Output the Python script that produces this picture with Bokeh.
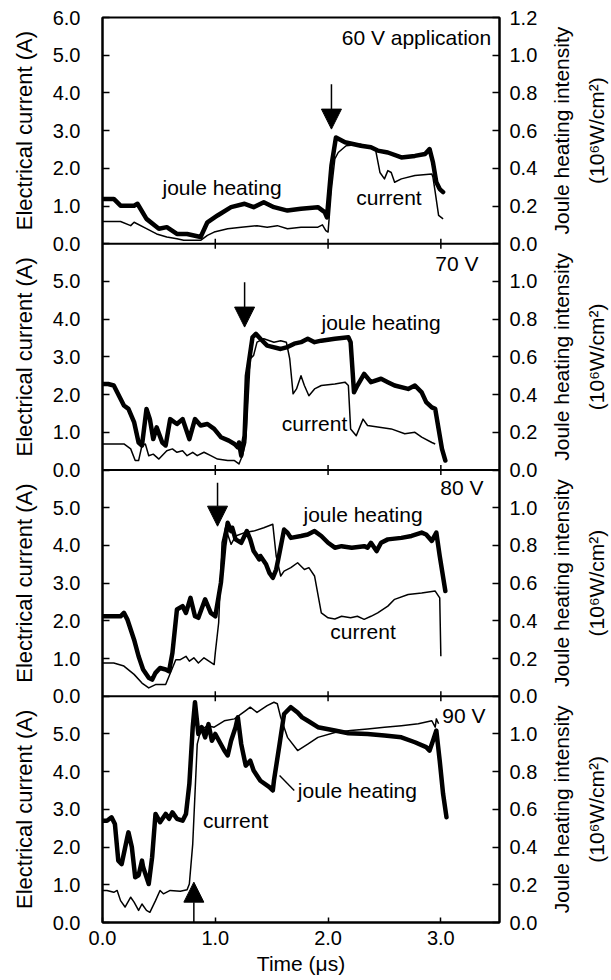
from math import pi
from bokeh.plotting import figure
from bokeh.layouts import row
from bokeh.models import (Range1d, LinearAxis, FixedTicker, Span, Label, Arrow,
                          NormalHead, PrintfTickFormatter, CustomJSTickFormatter)
from bokeh.embed import file_html
from bokeh.resources import INLINE

# ---------------- data (time in µs, current in A, joule heating in 10^6 W/cm^2) ----------------
p1_jh_t = [0.00, 0.10, 0.16, 0.28, 0.31, 0.39, 0.50, 0.57, 0.66, 0.75, 0.87, 0.93, 1.02, 1.14, 1.26,
           1.34, 1.43, 1.52, 1.64, 1.76, 1.91, 1.97, 1.99, 2.03, 2.07, 2.15, 2.29, 2.38, 2.44, 2.53,
           2.65, 2.77, 2.86, 2.90, 2.93, 2.96, 2.99, 3.02]
p1_jh = [0.238, 0.238, 0.202, 0.202, 0.212, 0.132, 0.080, 0.088, 0.052, 0.052, 0.036, 0.114, 0.150,
         0.194, 0.212, 0.194, 0.220, 0.194, 0.176, 0.186, 0.194, 0.168, 0.140, 0.414, 0.564, 0.538,
         0.520, 0.512, 0.494, 0.484, 0.458, 0.466, 0.476, 0.502, 0.432, 0.326, 0.290, 0.274]
p1_cur_t = [0.00, 0.16, 0.25, 0.28, 0.39, 0.48, 0.57, 0.66, 0.72, 0.87, 0.93, 0.99, 1.11, 1.23, 1.37,
            1.46, 1.55, 1.64, 1.76, 1.91, 1.95, 1.98, 2.00, 2.03, 2.06, 2.09, 2.16, 2.29, 2.38, 2.42,
            2.46, 2.50, 2.53, 2.56, 2.59, 2.65, 2.77, 2.92, 2.93, 2.95, 2.98, 3.02]
p1_cur = [0.59, 0.59, 0.48, 0.57, 0.40, 0.26, 0.18, 0.13, 0.09, 0.09, 0.22, 0.31, 0.40, 0.44, 0.48,
          0.44, 0.48, 0.40, 0.44, 0.44, 0.50, 0.35, 0.31, 1.45, 2.25, 2.42, 2.60, 2.64, 2.56, 2.51,
          1.89, 1.72, 1.94, 1.89, 1.63, 1.72, 1.81, 1.85, 1.76, 1.37, 0.75, 0.66]

p2_jh_t = [0.00, 0.05, 0.10, 0.19, 0.23, 0.28, 0.32, 0.35, 0.39, 0.42, 0.45, 0.48, 0.53, 0.56, 0.60,
           0.66, 0.71, 0.74, 0.77, 0.82, 0.87, 0.93, 0.99, 1.05, 1.12, 1.17, 1.20, 1.21, 1.23, 1.26,
           1.28, 1.33, 1.36, 1.40, 1.46, 1.58, 1.64, 1.70, 1.76, 1.82, 1.88, 1.94, 2.06, 2.18, 2.20,
           2.23, 2.26, 2.32, 2.38, 2.47, 2.53, 2.59, 2.71, 2.77, 2.83, 2.87, 2.92, 2.95, 2.98, 3.01,
           3.04]
p2_jh = [0.456, 0.456, 0.448, 0.342, 0.324, 0.254, 0.146, 0.130, 0.324, 0.270, 0.164, 0.226, 0.146,
         0.130, 0.270, 0.244, 0.270, 0.218, 0.164, 0.270, 0.236, 0.244, 0.218, 0.174, 0.156, 0.138,
         0.120, 0.146, 0.076, 0.182, 0.500, 0.704, 0.722, 0.696, 0.660, 0.642, 0.652, 0.670, 0.678,
         0.696, 0.678, 0.686, 0.696, 0.704, 0.678, 0.412, 0.448, 0.510, 0.466, 0.484, 0.466, 0.448,
         0.430, 0.448, 0.412, 0.360, 0.332, 0.324, 0.218, 0.112, 0.050]
p2_cur_t = [0.00, 0.19, 0.25, 0.29, 0.32, 0.35, 0.38, 0.41, 0.45, 0.50, 0.57, 0.62, 0.66, 0.71, 0.75,
            0.80, 0.84, 0.90, 0.96, 1.02, 1.11, 1.17, 1.21, 1.24, 1.27, 1.31, 1.34, 1.37, 1.43, 1.52,
            1.58, 1.63, 1.66, 1.69, 1.72, 1.76, 1.79, 1.83, 1.88, 1.94, 2.06, 2.15, 2.18, 2.20, 2.25,
            2.31, 2.35, 2.47, 2.56, 2.68, 2.77, 2.83, 2.92, 2.95]
p2_cur = [0.69, 0.69, 0.56, 0.25, 0.25, 0.65, 0.69, 0.38, 0.42, 0.29, 0.51, 0.56, 0.47, 0.51, 0.38,
          0.47, 0.38, 0.47, 0.38, 0.29, 0.25, 0.25, 0.16, 0.38, 0.73, 2.95, 3.04, 3.39, 3.48, 3.39,
          3.43, 3.39, 2.95, 2.02, 2.15, 2.50, 2.24, 1.97, 2.15, 2.24, 2.28, 2.33, 2.24, 1.09, 0.91,
          1.35, 1.18, 1.13, 1.09, 0.96, 1.00, 0.87, 0.73, 0.69]

p3_jh_t = [0.00, 0.16, 0.19, 0.22, 0.28, 0.32, 0.36, 0.41, 0.44, 0.47, 0.51, 0.56, 0.59, 0.62, 0.66,
           0.71, 0.74, 0.78, 0.82, 0.85, 0.91, 0.96, 1.00, 1.05, 1.08, 1.11, 1.14, 1.15, 1.18, 1.23,
           1.28, 1.31, 1.34, 1.39, 1.40, 1.45, 1.48, 1.51, 1.54, 1.57, 1.61, 1.64, 1.67, 1.76, 1.82,
           1.88, 1.94, 2.00, 2.06, 2.12, 2.21, 2.32, 2.35, 2.38, 2.43, 2.47, 2.53, 2.65, 2.74, 2.83,
           2.87, 2.92, 2.96, 2.99, 3.04]
p3_jh = [0.424, 0.424, 0.442, 0.408, 0.300, 0.212, 0.142, 0.098, 0.088, 0.124, 0.150, 0.142, 0.132,
         0.230, 0.460, 0.478, 0.442, 0.522, 0.424, 0.416, 0.514, 0.442, 0.424, 0.602, 0.796, 0.920,
         0.876, 0.894, 0.832, 0.814, 0.876, 0.832, 0.770, 0.726, 0.744, 0.700, 0.654, 0.628, 0.672,
         0.762, 0.884, 0.868, 0.840, 0.850, 0.858, 0.876, 0.850, 0.814, 0.788, 0.796, 0.788, 0.796,
         0.788, 0.814, 0.770, 0.814, 0.832, 0.840, 0.850, 0.868, 0.858, 0.824, 0.868, 0.744, 0.558]
p3_cur_t = [0.00, 0.10, 0.19, 0.28, 0.35, 0.41, 0.47, 0.56, 0.59, 0.65, 0.69, 0.74, 0.77, 0.81, 0.85,
            0.90, 0.99, 1.00, 1.03, 1.06, 1.09, 1.14, 1.18, 1.26, 1.34, 1.43, 1.51, 1.54, 1.58, 1.61,
            1.67, 1.73, 1.79, 1.83, 1.88, 1.94, 2.00, 2.06, 2.12, 2.20, 2.26, 2.32, 2.38, 2.44, 2.53,
            2.59, 2.71, 2.83, 2.95, 2.99, 3.00]
p3_cur = [0.88, 0.88, 0.80, 0.58, 0.35, 0.22, 0.31, 0.31, 0.53, 0.97, 0.97, 1.06, 0.93, 1.02, 0.88,
          1.02, 0.84, 1.15, 1.95, 4.07, 4.47, 4.03, 4.25, 4.34, 4.38, 4.47, 4.56, 3.72, 3.19, 3.32,
          3.41, 3.54, 3.36, 3.41, 3.19, 2.21, 2.08, 2.05, 2.12, 2.08, 2.12, 2.04, 2.12, 2.21, 2.39,
          2.57, 2.70, 2.74, 2.79, 2.61, 1.06]

p4_jh_t = [0.00, 0.04, 0.08, 0.11, 0.14, 0.17, 0.22, 0.23, 0.26, 0.29, 0.32, 0.35, 0.36, 0.41, 0.44,
           0.47, 0.51, 0.56, 0.59, 0.62, 0.66, 0.71, 0.74, 0.77, 0.80, 0.82, 0.85, 0.88, 0.91, 0.94,
           0.97, 1.00, 1.08, 1.11, 1.14, 1.18, 1.20, 1.23, 1.27, 1.31, 1.34, 1.40, 1.48, 1.51, 1.52,
           1.57, 1.61, 1.67, 1.73, 1.77, 1.82, 1.91, 2.06, 2.18, 2.35, 2.50, 2.65, 2.77, 2.87, 2.90,
           2.93, 2.96, 2.99, 3.02, 3.05]
p4_jh = [0.540, 0.540, 0.558, 0.522, 0.328, 0.310, 0.452, 0.478, 0.400, 0.240, 0.250, 0.328, 0.294,
         0.204, 0.346, 0.576, 0.532, 0.576, 0.550, 0.584, 0.550, 0.540, 0.576, 0.734, 1.036, 1.168,
         1.000, 1.036, 0.982, 1.052, 0.964, 1.000, 0.912, 0.886, 0.964, 1.036, 1.088, 0.946, 0.832,
         0.858, 0.806, 0.752, 0.718, 0.700, 0.752, 0.946, 1.106, 1.142, 1.114, 1.088, 1.070, 1.036,
         1.018, 1.004, 1.000, 0.992, 0.982, 0.956, 0.930, 0.912, 0.964, 1.018, 0.858, 0.682, 0.558]
p4_cur_t = [0.00, 0.04, 0.10, 0.13, 0.16, 0.20, 0.25, 0.28, 0.32, 0.35, 0.39, 0.42, 0.47, 0.51, 0.54,
            0.60, 0.69, 0.75, 0.77, 0.80, 0.82, 0.84, 0.87, 0.93, 0.99, 1.08, 1.17, 1.23, 1.27, 1.31,
            1.37, 1.46, 1.52, 1.55, 1.58, 1.64, 1.73, 1.82, 1.91, 2.06, 2.20, 2.35, 2.50, 2.65, 2.80,
            2.92, 2.95, 2.96, 2.98]
p4_cur = [0.85, 0.85, 0.80, 0.85, 0.58, 0.41, 0.67, 0.54, 0.32, 0.49, 0.32, 0.27, 0.58, 0.85, 0.76,
          0.85, 0.83, 0.87, 1.02, 2.08, 3.41, 4.73, 5.09, 5.22, 5.18, 5.35, 5.40, 5.53, 5.62, 5.71,
          5.57, 5.75, 5.84, 5.80, 5.44, 4.91, 4.56, 4.73, 4.91, 5.04, 5.09, 5.13, 5.18, 5.22, 5.27,
          5.35, 5.18, 5.40, 5.27]

# panel annotations
voltage_labels = ["60 V application", "70 V", "80 V", "90 V"]
voltage_label_t = [3.446, 3.333, 3.378, 3.395]
voltage_label_a = [5.46, 5.47, 5.53, 5.49]
joule_text_t = [1.06, 2.47, 2.31, 2.26]
joule_text_a = [1.50, 3.92, 4.82, 3.50]
current_text_t = [2.54, 1.88, 2.31, 1.18]
current_text_a = [1.23, 1.22, 1.73, 2.70]
arrow_t = [2.03, 1.26, 1.02, 0.81]
arrow_tail_a = [4.23, 4.98, 5.66, 0.00]
arrow_tip_a = [3.04, 3.79, 4.51, 1.07]
leader_t = [1.57, 1.70]        # panel 4 leader line to "joule heating"
leader_a = [3.90, 3.50]
x_ticks = [0, 1, 2, 3]
left_axis_title = "Electrical current (A)"
right_axis_title = ["Joule heating intensity", "(10\u2076W/cm\u00b2)"]

panels = [
    (p1_jh_t, p1_jh, p1_cur_t, p1_cur),
    (p2_jh_t, p2_jh, p2_cur_t, p2_cur),
    (p3_jh_t, p3_jh, p3_cur_t, p3_cur),
    (p4_jh_t, p4_jh, p4_cur_t, p4_cur),
]

# ---------------- layout ----------------
FONT = "Liberation Sans"
TICK_FS = "20px"
TEXT_FS = "21px"
LEFT_TITLE_FS = "22px"
RIGHT_TITLE_FS = "21px"
H = 980
LEFT_STRIP = 48          # canvas x 0..48   : left axis titles
MAIN_W = 500             # canvas x 48..548 : plot
RIGHT_STRIP = 63         # canvas x 548..611: right axis titles
FRAME_L, FRAME_R, FRAME_T, FRAME_B = 102, 499, 17, 922   # in page pixels
XMAX = 3.52
A_SPAN = 6.0      # current axis per panel
J_SPAN = 1.2      # joule axis per panel
N = len(panels)

p = figure(width=MAIN_W, height=H, x_range=Range1d(0, XMAX), y_range=Range1d(0, A_SPAN * N),
           output_backend="svg", toolbar_location=None,
           min_border_left=FRAME_L - LEFT_STRIP, min_border_right=LEFT_STRIP + MAIN_W - FRAME_R,
           min_border_top=FRAME_T, min_border_bottom=H - FRAME_B)
p.extra_y_ranges = {"joule": Range1d(0, J_SPAN * N)}
p.grid.visible = False
p.outline_line_color = "black"
p.outline_line_width = 2
p.background_fill_color = "white"
p.border_fill_color = "white"

for i, (jt, jv, ct, cv) in enumerate(panels):
    offA = A_SPAN * (N - 1 - i)
    offJ = J_SPAN * (N - 1 - i)
    p.line(ct, [v + offA for v in cv], line_color="black", line_width=1.5, line_join="round")
    p.line(jt, [v + offJ for v in jv], y_range_name="joule", line_color="black",
           line_width=4.5, line_join="round", line_cap="round")

# separators between panels
for k in range(1, N):
    p.add_layout(Span(location=A_SPAN * k, dimension="width", line_color="black", line_width=2))

# small time ticks on the inner panel borders
bx, by = [], []
for k in range(1, N):
    for t in x_ticks[1:]:
        bx.append(t)
        by.append(A_SPAN * k)
p.scatter(bx, by, marker="dash", angle=pi / 2, size=10, line_color="black", line_width=1.5)

# axes
left_ticks, right_ticks = [], []
for i in range(N):
    offA = A_SPAN * (N - 1 - i)
    offJ = J_SPAN * (N - 1 - i)
    n = 7 if i == 0 else 6
    for k in range(n):
        left_ticks.append(offA + k)
        right_ticks.append(round(offJ + 0.2 * k, 4))


def style_axis(ax):
    ax.axis_line_width = 2
    ax.axis_line_color = "black"
    ax.major_tick_line_width = 1.5
    ax.major_tick_line_color = "black"
    ax.major_tick_out = 0
    ax.minor_tick_in = 0
    ax.minor_tick_out = 0
    ax.major_label_text_font = FONT
    ax.major_label_text_font_size = TICK_FS
    ax.major_label_text_color = "black"


yl = p.left[0]
style_axis(yl)
yl.ticker = FixedTicker(ticks=left_ticks)
yl.formatter = CustomJSTickFormatter(code="""
    const off = Math.min(Math.floor(tick / 6 + 1e-6), 3) * 6;
    return (tick - off).toFixed(1);
""")
yl.major_tick_in = 7
yl.major_label_standoff = 22

yr = LinearAxis(y_range_name="joule")
style_axis(yr)
yr.ticker = FixedTicker(ticks=right_ticks)
yr.formatter = CustomJSTickFormatter(code="""
    const k = Math.min(Math.floor(tick / 1.2 + 1e-6), 3);
    return (tick - 1.2 * k).toFixed(1);
""")
yr.major_tick_in = 7
yr.major_label_standoff = 10
p.add_layout(yr, "right")

xa = p.below[0]
style_axis(xa)
xa.ticker = FixedTicker(ticks=x_ticks)
xa.formatter = PrintfTickFormatter(format="%.1f")
xa.major_tick_in = 5
xa.major_label_standoff = 8
xa.axis_label = "Time (\u03bcs)"
xa.axis_label_text_font = FONT
xa.axis_label_text_font_size = TEXT_FS
xa.axis_label_text_font_style = "normal"
xa.axis_label_text_color = "black"
xa.axis_label_standoff = 4


def lab(fig, x, y, text, align="center", angle=0.0, size=TEXT_FS):
    fig.add_layout(Label(x=x, y=y, text=text, text_align=align, text_baseline="middle",
                         angle=angle, text_font=FONT, text_font_size=size, text_color="black"))


for i in range(N):
    offA = A_SPAN * (N - 1 - i)
    lab(p, voltage_label_t[i], voltage_label_a[i] + offA, voltage_labels[i], align="right")
    lab(p, joule_text_t[i], joule_text_a[i] + offA, "joule heating")
    lab(p, current_text_t[i], current_text_a[i] + offA, "current")
    p.add_layout(Arrow(end=NormalHead(size=20, fill_color="black", line_color="black"),
                       x_start=arrow_t[i], y_start=arrow_tail_a[i] + offA,
                       x_end=arrow_t[i], y_end=arrow_tip_a[i] + offA,
                       line_color="black", line_width=1.5))

p.line(leader_t, leader_a, line_color="black", line_width=1.4)


# side strips holding the per-panel axis titles (share the main y range)
def strip(width):
    s = figure(width=width, height=H, x_range=Range1d(0, width), y_range=p.y_range,
               output_backend="svg", toolbar_location=None,
               x_axis_location=None, y_axis_location=None,
               min_border_left=0, min_border_right=0,
               min_border_top=FRAME_T, min_border_bottom=H - FRAME_B)
    s.grid.visible = False
    s.outline_line_color = None
    s.background_fill_color = "white"
    s.border_fill_color = "white"
    return s


sl = strip(LEFT_STRIP)
sr = strip(RIGHT_STRIP)
for i in range(N):
    mid = A_SPAN * (N - 1 - i) + A_SPAN / 2
    lab(sl, 24, mid, left_axis_title, angle=pi / 2, size=LEFT_TITLE_FS)
    lab(sr, 561 - LEFT_STRIP - MAIN_W, mid, right_axis_title[0], angle=pi / 2, size=RIGHT_TITLE_FS)
    lab(sr, 596 - LEFT_STRIP - MAIN_W, mid, right_axis_title[1], angle=pi / 2, size=RIGHT_TITLE_FS)

layout = row(sl, p, sr)
open("out.html", "w").write(file_html(layout, INLINE))
